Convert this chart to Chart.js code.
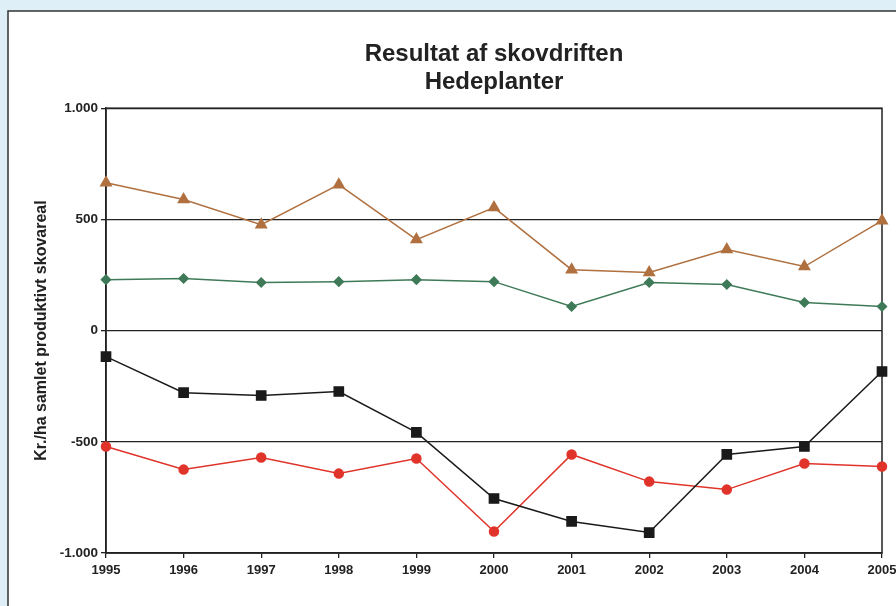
<!DOCTYPE html>
<html>
<head>
<meta charset="utf-8">
<script src="https://cdn.jsdelivr.net/npm/chart.js@4"></script>
<style>
  html, body { margin: 0; padding: 0; background: #dfeff8; }
  canvas { display: block; }
</style>
</head>
<body>
<canvas id="chart" width="896" height="606"></canvas>
<script>
const years = ['1995','1996','1997','1998','1999','2000','2001','2002','2003','2004','2005'];
const brunSerie = [665, 589, 476, 656, 409, 553, 274, 261, 364, 288, 494];
const groenSerie = [229, 234, 216, 220, 229, 220, 108, 216, 207, 126, 108];
const sortSerie = [-117, -279, -292, -274, -458, -755, -858, -908, -557, -521, -184];
const roedSerie = [-521, -625, -571, -643, -575, -903, -557, -679, -715, -598, -611];

function formatDK(v) {
  let s = Math.abs(v).toString().replace(/\B(?=(\d{3})+(?!\d))/g, '.');
  return (v < 0 ? '-' : '') + s;
}

// baggrund + hvidt panel + ramme om plotområdet
const panelPlugin = {
  id: 'panel',
  beforeDraw(chart) {
    const ctx = chart.ctx;
    ctx.save();
    ctx.fillStyle = '#dfeff8';
    ctx.fillRect(0, 0, chart.width, chart.height);
    ctx.fillStyle = '#ffffff';
    ctx.fillRect(8, 11, chart.width, chart.height);
    ctx.strokeStyle = '#333';
    ctx.lineWidth = 1.5;
    ctx.strokeRect(8, 11, chart.width + 10, chart.height + 10);
    ctx.restore();
  },
  beforeDatasetsDraw(chart) {
    const a = chart.chartArea;
    const ctx = chart.ctx;
    ctx.save();
    ctx.strokeStyle = '#222';
    ctx.lineWidth = 1.5;
    ctx.strokeRect(a.left, a.top, a.right - a.left, a.bottom - a.top);
    ctx.restore();
  }
};

const ctx = document.getElementById('chart').getContext('2d');
new Chart(ctx, {
  type: 'line',
  data: {
    labels: years,
    datasets: [
      { data: brunSerie, borderColor: '#b0703f', backgroundColor: '#b0703f', borderWidth: 1.5,
        pointStyle: 'triangle', pointRadius: 6, clip: false },
      { data: groenSerie, borderColor: '#3f7a58', backgroundColor: '#3f7a58', borderWidth: 1.5,
        pointStyle: 'rectRot', pointRadius: 4.5, clip: false },
      { data: sortSerie, borderColor: '#1a1a1a', backgroundColor: '#1a1a1a', borderWidth: 1.5,
        pointStyle: 'rect', pointRadius: 6.5, clip: false },
      { data: roedSerie, borderColor: '#e0332a', backgroundColor: '#e0332a', borderWidth: 1.5,
        pointStyle: 'circle', pointRadius: 4.5, clip: false }
    ]
  },
  options: {
    responsive: false,
    animation: false,
    layout: { padding: { left: 24, right: 14, top: 0, bottom: 22 } },
    plugins: {
      legend: { display: false },
      tooltip: { enabled: false },
      title: {
        display: true,
        fullSize: false,
        text: ['Resultat af skovdriften', 'Hedeplanter'],
        color: '#222',
        font: { family: 'Arial, "Liberation Sans", sans-serif', size: 24, weight: 'bold', lineHeight: 1.17 },
        padding: { top: 40, bottom: 12 }
      }
    },
    scales: {
      x: {
        offset: false,
        grid: { drawOnChartArea: false, drawTicks: true, tickLength: 5, color: '#222', lineWidth: 1.3 },
        border: { color: '#222', width: 1.5 },
        ticks: {
          color: '#222', padding: 5, maxRotation: 0, autoSkip: false,
          font: { family: 'Arial, "Liberation Sans", sans-serif', size: 13, weight: 'bold' }
        },
        afterFit(scale) {
          scale.height = 31;
          scale.paddingLeft = 0;
          scale.paddingRight = 0;
        }
      },
      y: {
        min: -1000, max: 1000,
        grid: { color: '#222', lineWidth: 1.3, tickLength: 5 },
        border: { color: '#222', width: 1.5 },
        ticks: {
          stepSize: 500, color: '#222', padding: 3,
          font: { family: 'Arial, "Liberation Sans", sans-serif', size: 13.5, weight: 'bold' },
          callback: v => formatDK(v)
        },
        title: {
          display: true,
          text: 'Kr./ha samlet produktivt skovareal',
          color: '#222',
          padding: { top: 8, bottom: 0 },
          font: { family: 'Arial, "Liberation Sans", sans-serif', size: 16, weight: 'bold' }
        },
        afterFit(scale) { scale.width = 82; }
      }
    }
  },
  plugins: [panelPlugin]
});
</script>
</body>
</html>
